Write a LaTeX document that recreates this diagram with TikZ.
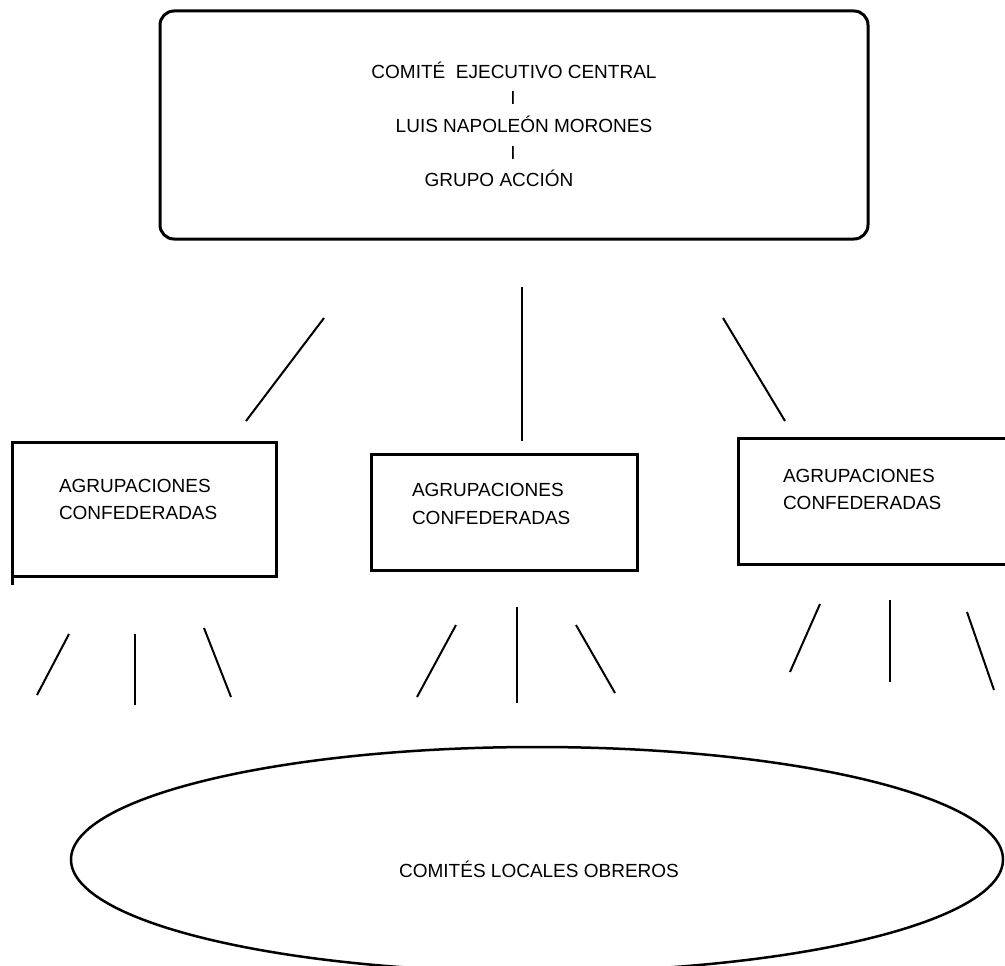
\documentclass[tikz,border=0pt]{standalone}
\usepackage{fontspec}
\setmainfont{Liberation Sans}
\usetikzlibrary{shapes.geometric}
\begin{document}
\begin{tikzpicture}[x=1pt,y=-1pt,
  every node/.style={font=\fontsize{19}{23}\selectfont, inner sep=0pt, outer sep=0pt},
  txt/.style={anchor=base},
  txtw/.style={anchor=base west},
  frame/.style={draw, line width=3pt, rectangle},
  link/.style={line width=2pt},
]
\useasboundingbox (0,0) rectangle (1005,966);
\clip (0,0) rectangle (1005,966);
\fill[white] (0,0) rectangle (1005,966);

% top box
\node[frame, rounded corners=14pt, minimum width=708pt, minimum height=228pt] (top) at (514,125) {};
\node[txt] (t1) at (514,78) {COMITÉ~ EJECUTIVO CENTRAL};
\node[txt] (ti1) at (513,105) {I};
\node[txt] (t2) at (524,132) {LUIS NAPOLEÓN MORONES};
\node[txt] (ti2) at (513,159) {I};
\node[txt] (t3) at (499,186) {GRUPO ACCIÓN};

% middle boxes
\node[frame, minimum width=264pt, minimum height=134pt] (boxL) at (144,509) {};
\draw[line width=3pt] (boxL.south west) -- ++(0,9);
\node[txtw] (bL1) at (59,492) {AGRUPACIONES};
\node[txtw] (bL2) at (59,519) {CONFEDERADAS};

\node[frame, minimum width=266pt, minimum height=116pt] (boxM) at (504,512) {};
\node[txtw] (bM1) at (412,496) {AGRUPACIONES};
\node[txtw] (bM2) at (412,524) {CONFEDERADAS};

\node[frame, minimum width=280pt, minimum height=126pt] (boxR) at (878,501) {};
\node[txtw] (bR1) at (783,482) {AGRUPACIONES};
\node[txtw] (bR2) at (783,509) {CONFEDERADAS};

% ellipse
\node[draw, ellipse, line width=2.5pt, minimum width=932pt, minimum height=225pt] (ell) at (537,859.5) {};
\node[txt] (ellt) at (539,877) {COMITÉS LOCALES OBREROS};

% upper connectors
\coordinate (a1) at (324,318); \coordinate (a2) at (246,421);
\coordinate (b1) at (522,287); \coordinate (b2) at (522,441);
\coordinate (c1) at (723,318); \coordinate (c2) at (785,421);
\draw[link] (a1) -- (a2);
\draw[link] (b1) -- (b2);
\draw[link] (c1) -- (c2);

% lower connectors
\coordinate (p1) at (69,634);  \coordinate (p2) at (37,695);
\coordinate (q1) at (135,634); \coordinate (q2) at (135,705);
\coordinate (r1) at (204,628); \coordinate (r2) at (231,697);
\draw[link] (p1) -- (p2);
\draw[link] (q1) -- (q2);
\draw[link] (r1) -- (r2);

\coordinate (p3) at (456,625); \coordinate (p4) at (417,697);
\coordinate (q3) at (517,607); \coordinate (q4) at (517,703);
\coordinate (r3) at (576,625); \coordinate (r4) at (615,693);
\draw[link] (p3) -- (p4);
\draw[link] (q3) -- (q4);
\draw[link] (r3) -- (r4);

\coordinate (p5) at (820,604); \coordinate (p6) at (790,672);
\coordinate (q5) at (890,600); \coordinate (q6) at (890,682);
\coordinate (r5) at (967,612); \coordinate (r6) at (994,690);
\draw[link] (p5) -- (p6);
\draw[link] (q5) -- (q6);
\draw[link] (r5) -- (r6);
\end{tikzpicture}
\end{document}
